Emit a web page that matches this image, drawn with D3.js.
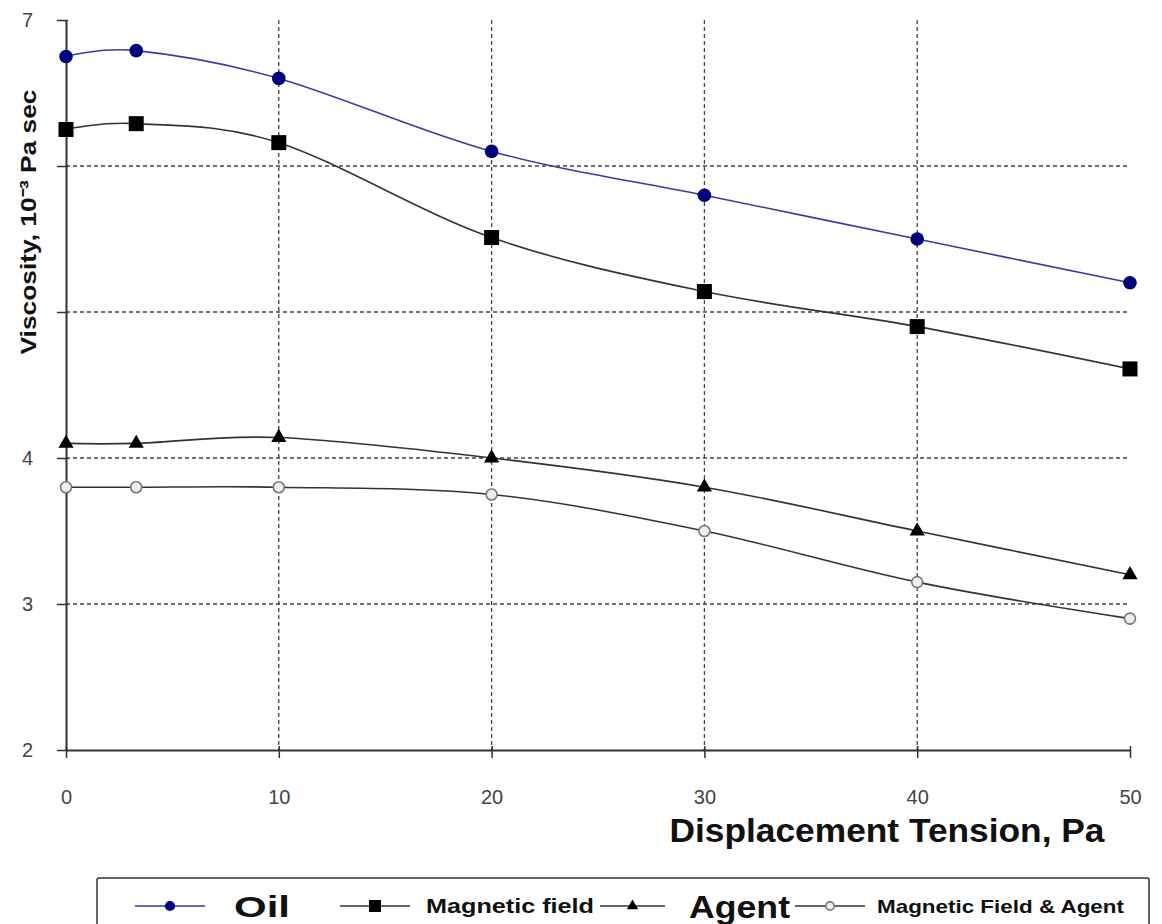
<!DOCTYPE html>
<html>
<head>
<meta charset="utf-8">
<script src="https://cdn.jsdelivr.net/npm/d3@7"></script>
<style>
  body { margin: 0; background: #fff; }
  svg { display: block; }
</style>
</head>
<body>
<svg id="chart" width="1162" height="924"></svg>
<script>
// ---- data ----
const xValues = [0, 3.3, 10, 20, 30, 40, 50];
const oil = [6.75, 6.79, 6.6, 6.1, 5.8, 5.5, 5.2];
const magneticField = [6.25, 6.29, 6.16, 5.51, 5.14, 4.9, 4.61];
const agent = [4.1, 4.1, 4.14, 4.0, 3.8, 3.5, 3.2];
const magneticFieldAgent = [3.8, 3.8, 3.8, 3.75, 3.5, 3.15, 2.9];
const xTicks = [0, 10, 20, 30, 40, 50];
const yTicks = [2, 3, 4, 5, 6, 7];
const seriesNames = ["Oil", "Magnetic field", "Agent", "Magnetic Field & Agent"];
const xTitle = "Displacement Tension, Pa";
const yTitle = "Viscosity, 10\u207B\u00B3 Pa sec";

(function () {
// ---- layout ----
const svg = d3.select("#chart");
const pL = 66, pR = 1130, pT = 20, pB = 750;
const x = d3.scaleLinear().domain([0, 50]).range([pL, pR]);
const y = d3.scaleLinear().domain([2, 7]).range([pB, pT]);

// grid
const grid = svg.append("g").attr("stroke", "#444").attr("stroke-width", 1.3)
  .attr("stroke-dasharray", "4,3");
grid.selectAll("line.h").data(yTicks.filter(d => d > 2 && d < 7)).join("line")
  .attr("class", "h")
  .attr("x1", pL).attr("x2", pR).attr("y1", d => y(d)).attr("y2", d => y(d));
grid.selectAll("line.v").data(xTicks.filter(d => d > 0 && d < 50)).join("line")
  .attr("class", "v")
  .attr("x1", d => x(d)).attr("x2", d => x(d)).attr("y1", pT).attr("y2", pB);

// axes
const xAxis = svg.append("g").attr("transform", `translate(0,${pB})`)
  .call(d3.axisBottom(x).tickValues(xTicks).tickFormat(d3.format("d"))
    .tickSize(8).tickPadding(32).tickSizeOuter(0));
const yAxis = svg.append("g").attr("transform", `translate(${pL},0)`)
  .call(d3.axisLeft(y).tickValues(yTicks).tickFormat(d3.format("d"))
    .tickSize(9).tickPadding(24).tickSizeOuter(0));
[xAxis, yAxis].forEach(a => {
  a.select(".domain").attr("stroke", "#333").attr("stroke-width", 2);
  a.selectAll(".tick line").attr("stroke", "#333").attr("stroke-width", 1.5);
  a.selectAll(".tick text").attr("fill", "#444")
    .attr("font-family", "Liberation Sans, Arial, sans-serif").attr("font-size", 20);
});
xAxis.selectAll(".tick line").attr("y1", -4);
yAxis.selectAll(".tick line").attr("x1", 2);

// titles
svg.append("text").attr("x", 887).attr("y", 842).attr("text-anchor", "middle")
  .attr("font-family", "Liberation Sans, Arial, sans-serif").attr("font-weight", "bold")
  .attr("font-size", 33).attr("fill", "#111")
  .attr("textLength", 435).attr("lengthAdjust", "spacingAndGlyphs").text(xTitle);
const yt = svg.append("g").attr("transform", "translate(36,222) rotate(-90)");
yt.append("rect").attr("x", -134).attr("y", -20).attr("width", 268).attr("height", 26).attr("fill", "#fff");
yt.append("text").attr("text-anchor", "middle")
  .attr("font-family", "Liberation Sans, Arial, sans-serif").attr("font-weight", "bold")
  .attr("font-size", 22).attr("fill", "#111")
  .attr("textLength", 265).attr("lengthAdjust", "spacingAndGlyphs").text(yTitle);

// series
const series = [
  { name: seriesNames[0], vals: oil, color: "#3a3aa8", marker: "circle" },
  { name: seriesNames[1], vals: magneticField, color: "#333", marker: "square" },
  { name: seriesNames[2], vals: agent, color: "#333", marker: "triangle" },
  { name: seriesNames[3], vals: magneticFieldAgent, color: "#333", marker: "open" }
];
const line = d3.line().x(d => x(d[0])).y(d => y(d[1])).curve(d3.curveCatmullRom.alpha(0));

function drawMarker(g, type, cx, cy, scale) {
  const s = scale || 1;
  if (type === "circle") {
    g.append("circle").attr("cx", cx).attr("cy", cy).attr("r", 6.8 * s).attr("fill", "#00007a");
  } else if (type === "square") {
    g.append("rect").attr("x", cx - 7.5 * s).attr("y", cy - 7.5 * s)
      .attr("width", 15 * s).attr("height", 15 * s).attr("fill", "#000");
  } else if (type === "triangle") {
    g.append("path").attr("d", d3.symbol(d3.symbolTriangle, 100 * s * s)()).attr("transform", `translate(${cx},${cy})`)
      .attr("fill", "#000");
  } else {
    g.append("circle").attr("cx", cx).attr("cy", cy).attr("r", 5.5 * s)
      .attr("fill", "#eee").attr("stroke", "#777").attr("stroke-width", 1.6);
  }
}

series.forEach(s => {
  const pts = xValues.map((xv, i) => [xv, s.vals[i]]);
  svg.append("path").attr("d", line(pts)).attr("fill", "none")
    .attr("stroke", s.color).attr("stroke-width", 1.6);
  const g = svg.append("g");
  pts.forEach(p => drawMarker(g, s.marker, x(p[0]), y(p[1])));
});

// legend
const lg = svg.append("g");
lg.append("rect").attr("x", 97).attr("y", 878).attr("width", 1052).attr("height", 60)
  .attr("fill", "#fff").attr("stroke", "#333").attr("stroke-width", 1.5).attr("rx", 2);
const legendItems = [
  { s: series[0], x1: 135, x2: 205, tx: 234, size: 30, w: 56 },
  { s: series[1], x1: 340, x2: 410, tx: 426, size: 20, w: 168 },
  { s: series[2], x1: 600, x2: 665, tx: 689, size: 32, w: 101 },
  { s: series[3], x1: 795, x2: 865, tx: 877, size: 19, w: 247 }
];
const ly = 906;
legendItems.forEach(it => {
  lg.append("line").attr("x1", it.x1).attr("x2", it.x2).attr("y1", ly).attr("y2", ly)
    .attr("stroke", it.s.color).attr("stroke-width", 1.6);
  drawMarker(lg, it.s.marker, (it.x1 + it.x2) / 2, ly, it.s.marker === "square" ? 0.8 : 0.75);
  lg.append("text").attr("x", it.tx).attr("y", ly + it.size * 0.36)
    .attr("font-family", "Liberation Sans Narrow, Liberation Sans, Arial, sans-serif")
    .attr("font-weight", "bold").attr("font-size", it.size).attr("fill", "#111")
    .attr("textLength", it.w).attr("lengthAdjust", "spacingAndGlyphs")
    .text(it.s.name);
});
})();
</script>
</body>
</html>
